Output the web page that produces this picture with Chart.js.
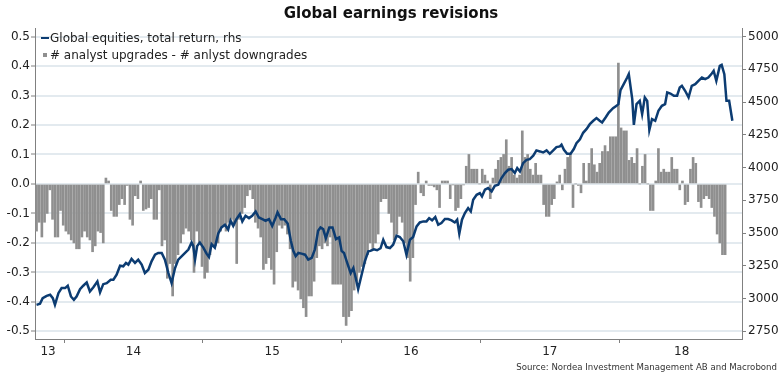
<!DOCTYPE html>
<html>
<head>
<meta charset="utf-8">
<title>Global earnings revisions</title>
<script src="https://cdn.jsdelivr.net/npm/chart.js@4.4.1/dist/chart.umd.min.js"></script>
<style>
  body { margin: 0; background: #fff; }
  #wrap { position: relative; width: 782px; height: 378px; font-family: 'DejaVu Sans', sans-serif; color: #222; }
  .leg { position: absolute; left: 50px; font-size: 12px; line-height: 14px; white-space: nowrap; }
  .mark { position: absolute; }
  #source { position: absolute; right: 5px; top: 362px; font-size: 8.6px; color: #333; white-space: nowrap; }
</style>
</head>
<body>
<div id="wrap">
  <canvas id="revChart" width="782" height="378"></canvas>
  <div class="mark" style="left:41px;top:37px;width:8px;height:2px;background:#0c3c72"></div>
  <div class="leg" style="top:31px">Global equities, total return, rhs</div>
  <div class="mark" style="left:43px;top:53px;width:4px;height:4px;background:#8f8f8f"></div>
  <div class="leg" style="top:48px"># analyst upgrades - # anlyst downgrades</div>
  <div id="source">Source: Nordea Investment Management AB and Macrobond</div>
</div>
<script>
// weekly series, first week ~ late Oct 2013 (decimal years)
const barStart = 2013.802;

// # analyst upgrades - # analyst downgrades (weekly, lhs)
const revisions = [
  -0.16, -0.13, -0.18, -0.13, -0.10, -0.02, -0.12, -0.18, -0.18, -0.09,
  -0.14, -0.16, -0.17, -0.19, -0.20, -0.22, -0.22, -0.18, -0.16, -0.18,
  -0.19, -0.23, -0.21, -0.16, -0.165, -0.20,
  0.02, 0.01,
  -0.09, -0.11, -0.11, -0.07, -0.05, -0.07, -0.005, -0.12, -0.14, -0.04,
  -0.05, 0.01, -0.09, -0.085, -0.08, -0.05, -0.12, -0.12, -0.02, -0.21, -0.19,
  -0.32, -0.27, -0.38, -0.27, -0.24, -0.20, -0.17, -0.15, -0.16, -0.19,
  -0.30, -0.16, -0.20, -0.28, -0.32, -0.30, -0.24, -0.21, -0.21, -0.20,
  -0.16, -0.14, -0.16, -0.13, -0.12, -0.14, -0.27, -0.12, -0.10, -0.08,
  -0.04, -0.02, -0.05, -0.13, -0.15, -0.18, -0.29,
  -0.27, -0.25, -0.29, -0.34, -0.23, -0.14, -0.15, -0.14, -0.17, -0.22,
  -0.35, -0.33, -0.36, -0.39, -0.42, -0.45, -0.38, -0.38, -0.33, -0.25,
  -0.21, -0.22, -0.20, -0.21, -0.18, -0.34, -0.34, -0.34, -0.34, -0.45,
  -0.48, -0.45, -0.43, -0.36, -0.33, -0.30, -0.28, -0.27, -0.24, -0.20,
  -0.22, -0.20, -0.17, -0.06, -0.05,
  -0.05, -0.10, -0.13, -0.19, -0.17, -0.11, -0.13, -0.20, -0.25, -0.33,
  -0.25, -0.07, 0.04, -0.03, -0.04, 0.01, -0.005, -0.005, -0.01, -0.02,
  -0.08, 0.01, 0.01, 0.01, -0.05, -0.003, -0.09, -0.08, -0.05, -0.003,
  0.06, 0.10, 0.05, 0.05, 0.05, 0.0, 0.05, 0.03, 0.01, -0.05,
  0.02, 0.05, 0.08, 0.09,
  0.10, 0.15, 0.06, 0.09, 0.03, 0.02, 0.03, 0.18, 0.09, 0.10,
  0.05, 0.03, 0.07, 0.03, 0.03, -0.07, -0.11, -0.11, -0.07, -0.05,
  0.007, 0.03, -0.02, 0.05, 0.09, 0.10, -0.08, 0.0, -0.005, -0.03,
  0.07, 0.01, 0.07, 0.12, 0.065, 0.04, 0.07, 0.11, 0.13, 0.11,
  0.16, 0.16, 0.16, 0.41,
  0.19, 0.18, 0.18, 0.08, 0.09, 0.07, 0.12, 0.0, 0.06, 0.10,
  0.0, -0.09, -0.09, 0.01, 0.12, 0.04, 0.05, 0.04, 0.04, 0.09,
  0.05, 0.05, -0.02, 0.01, -0.07, -0.06, 0.05, 0.09, 0.07, -0.06,
  -0.08, -0.05, -0.04, -0.05, -0.08, -0.11, -0.17, -0.20, -0.24, -0.24
];

// Global equities, total return (rhs): week number and index level
const equityWeeks = [
  0, 1.3, 2.3, 3.8, 5.1, 6.1, 6.9, 8.2, 9.4, 10.7,
  11.7, 12.9, 14.0, 15.0, 16.3, 17.5, 18.8, 20.0, 21.3, 22.8,
  23.8, 25.0, 26.3, 27.8, 28.8, 30.0, 31.3, 32.5, 33.5, 34.4,
  35.6, 36.9, 38.1, 39.4, 40.6, 41.9, 43.1, 44.4, 45.6, 46.9,
  48.1, 49.4, 50.6, 51.9, 53.1, 55.0, 56.9, 58.1, 58.7, 59.4,
  60.2, 61.2, 62.5, 63.7, 64.6, 65.6, 66.8, 68.1, 69.3, 70.6,
  71.8, 72.7, 73.7, 74.9, 76.2, 77.1, 78.3, 79.6, 80.8, 82.1,
  83.3, 84.6, 85.8, 87.1, 88.3, 89.6, 90.3, 91.6, 92.8, 94.1,
  95.3, 96.2, 97.1, 98.1, 99.3, 100.6, 101.8, 103.1, 104.3, 105.5,
  106.4, 107.4, 108.4, 109.7, 110.9, 112.2, 113.4, 114.3, 115.2, 116.4,
  117.7, 118.7, 119.6, 120.5, 121.8, 123.0, 124.3, 125.1, 126.4, 127.6,
  128.9, 129.9, 131.1, 132.4, 133.6, 134.9, 136.1, 137.4, 138.6, 139.9,
  141.1, 142.4, 143.6, 144.9, 146.1, 147.1, 148.2, 149.4, 150.5, 151.7,
  153.0, 154.2, 155.5, 156.7, 157.6, 158.4, 159.4, 160.5, 161.7, 162.7,
  163.6, 164.9, 166.1, 166.9, 168.0, 169.2, 170.5, 171.7, 173.0, 174.2,
  175.5, 176.7, 178.0, 179.2, 180.1, 181.1, 182.3, 183.6, 184.8, 186.1,
  187.3, 188.6, 189.8, 191.1, 192.3, 193.6, 194.8, 196.1, 196.7, 197.6,
  198.8, 200.1, 201.3, 202.3, 203.6, 204.8, 206.1, 207.3, 208.6, 209.8,
  211.0, 211.9, 213.2, 214.4, 216.0, 217.3, 218.0, 218.8, 220.0, 221.3,
  221.9, 223.2, 223.8, 224.8, 226.0, 226.9, 227.9, 228.8, 229.6, 230.6,
  231.8, 233.0, 234.3, 235.5, 236.3, 237.5, 238.8, 240.0, 241.0, 241.8,
  243.0, 244.3, 245.5, 246.8, 248.0, 249.3, 250.5, 251.7, 253.0, 253.7,
  254.7, 256.0, 256.7, 257.7, 258.5, 259.5, 260.7
];
const equityLevel = [
  2952, 2960, 3003, 3021, 3029, 3003, 2952, 3041, 3080, 3080,
  3098, 3016, 2990, 3016, 3072, 3098, 3123, 3054, 3087, 3131,
  3047, 3110, 3118, 3144, 3144, 3182, 3251, 3246, 3272, 3259,
  3302, 3272, 3297, 3259, 3195, 3220, 3284, 3335, 3348, 3348,
  3297, 3195, 3118, 3233, 3297, 3335, 3374, 3428, 3402, 3300,
  3402, 3428, 3389, 3343, 3318, 3415, 3389, 3497, 3543, 3563,
  3527, 3594, 3555, 3606, 3645, 3589, 3632, 3614, 3632, 3665,
  3619, 3606, 3594, 3606, 3555, 3619, 3658, 3606, 3606, 3573,
  3440, 3364, 3323, 3348, 3343, 3335, 3297, 3310, 3376, 3517,
  3543, 3530, 3461, 3543, 3543, 3453, 3466, 3364, 3348, 3272,
  3195, 3233, 3157, 3072, 3182, 3284, 3361, 3364, 3376, 3369,
  3384, 3449, 3393, 3386, 3411, 3480, 3470, 3437, 3335, 3449,
  3470, 3551, 3581, 3589, 3589, 3614, 3597, 3622, 3564, 3576,
  3607, 3607, 3597, 3581, 3602, 3495, 3602, 3653, 3691, 3665,
  3754, 3792, 3805, 3780, 3831, 3843, 3818, 3861, 3869, 3920,
  3958, 3983, 3988, 3958, 3996, 3970, 4034, 4059, 4064, 4090,
  4131, 4123, 4115, 4131, 4105, 4131, 4156, 4161, 4174, 4136,
  4105, 4105, 4141, 4186, 4215, 4265, 4295, 4331, 4357, 4377,
  4357, 4344, 4382, 4420, 4453, 4471, 4484, 4591, 4636, 4687,
  4713, 4522, 4326, 4484, 4509, 4408, 4535, 4509, 4286, 4370,
  4357, 4433, 4471, 4484, 4573, 4565, 4548, 4548, 4611, 4624,
  4586, 4535, 4624, 4636, 4662, 4687, 4675, 4687, 4718, 4738,
  4662, 4776, 4784, 4713, 4509, 4509, 4357
];

// axis ticks
const leftTicks = [-0.5, -0.4, -0.3, -0.2, -0.1, 0.0, 0.1, 0.2, 0.3, 0.4, 0.5];
const rightTicks = [2750, 3000, 3250, 3500, 3750, 4000, 4250, 4500, 4750, 5000];
const yearBreaks = [2014, 2015, 2016, 2017, 2018];
const yearLabels = ['13', '14', '15', '16', '17', '18'];
const yearLabelPos = [2013.885, 2014.5, 2015.5, 2016.5, 2017.5, 2018.45];

const axisGrey = '#808080';
const tickFont = { family: 'DejaVu Sans', size: 12 };

const barPoints = revisions.map((v, i) => ({ x: barStart + i / 52, y: v }));
const linePoints = equityWeeks.map((w, i) => ({ x: barStart + w / 52, y: equityLevel[i] }));
const xTickValues = yearBreaks.concat(yearLabelPos).sort((a, b) => a - b);

new Chart(document.getElementById('revChart'), {
    type: 'bar',
    data: {
        datasets: [
            {
                type: 'line',
                label: 'Global equities, total return, rhs',
                data: linePoints,
                yAxisID: 'y1',
                borderColor: '#0c3c72',
                borderWidth: 2.5,
                pointRadius: 0,
                tension: 0,
                order: 1
            },
            {
                type: 'bar',
                label: '# analyst upgrades - # anlyst downgrades',
                data: barPoints,
                yAxisID: 'y',
                backgroundColor: '#8f8f8f',
                barThickness: 2,
                order: 2
            }
        ]
    },
    options: {
        responsive: false,
        animation: false,
        layout: { padding: 0 },
        plugins: {
            legend: { display: false },
            tooltip: { enabled: false },
            title: {
                display: true,
                text: 'Global earnings revisions',
                color: '#111',
                font: { family: 'DejaVu Sans', size: 15, weight: 'bold' },
                padding: { top: 5, bottom: 5 }
            }
        },
        scales: {
            x: {
                type: 'linear',
                min: 2013.791,
                max: 2018.885,
                offset: false,
                afterFit: (s) => { s.height = 39; },
                afterBuildTicks: (s) => { s.ticks = xTickValues.map(v => ({ value: v })); },
                grid: {
                    offset: false,
                    drawOnChartArea: false,
                    tickLength: 4,
                    tickColor: (ctx) => (ctx.tick && yearBreaks.includes(ctx.tick.value)) ? axisGrey : 'rgba(0,0,0,0)'
                },
                border: { color: axisGrey },
                ticks: {
                    autoSkip: false,
                    maxRotation: 0,
                    padding: 2,
                    color: '#222',
                    font: tickFont,
                    callback: (v) => {
                        const k = yearLabelPos.indexOf(v);
                        return k >= 0 ? yearLabels[k] : '';
                    }
                }
            },
            y: {
                position: 'left',
                min: -0.526,
                max: 0.529,
                afterFit: (s) => { s.width = 35; },
                afterBuildTicks: (s) => { s.ticks = leftTicks.map(v => ({ value: v })); },
                grid: { color: '#e3eaef', lineWidth: 2, tickLength: 4, tickColor: axisGrey, tickWidth: 1 },
                border: { color: axisGrey },
                ticks: { padding: 1, color: '#222', font: tickFont, callback: (v) => v.toFixed(1) }
            },
            y1: {
                position: 'right',
                min: 2691.5,
                max: 5065,
                afterFit: (s) => { s.width = 40; },
                afterBuildTicks: (s) => { s.ticks = rightTicks.map(v => ({ value: v })); },
                grid: { drawOnChartArea: false, tickLength: 4, tickColor: axisGrey },
                border: { color: axisGrey },
                ticks: { padding: 2, color: '#222', font: tickFont, callback: (v) => String(v) }
            }
        }
    }
});
</script>
</body>
</html>
